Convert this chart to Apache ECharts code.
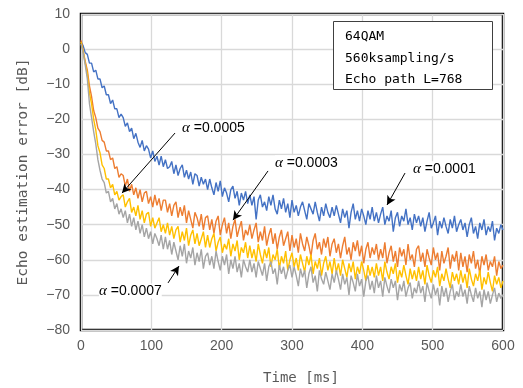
<!DOCTYPE html>
<html><head><meta charset="utf-8">
<script src="https://cdn.jsdelivr.net/npm/echarts@6/dist/echarts.min.js"></script>
<style>html,body{margin:0;padding:0;background:#fff}#c{width:523px;height:388px}</style>
</head><body><div id="c"></div>
<script>
const timeStepMs = 3;

// Echo estimation error [dB], one value every timeStepMs from 0 to 600 ms (20 values = 60 ms per row)
const err_a0001 = [
  2, 1, -1, -1.5, -4, -4, -6.5, -6, -8.5, -8.5, -11, -10.5, -13, -13, -15.5, -14.5, -17, -17, -19.5, -18.5,
  -19.5, -22, -21, -23.5, -22.5, -25.5, -24, -26.5, -28, -26, -29, -27.5, -28.5, -31, -29, -32, -30.5, -33, -30.5, -33.5,
  -31.5, -34, -33.5, -32, -35.5, -33, -36, -34, -33, -36.5, -34.5, -37, -35, -38.5, -35.5, -36, -39, -36.5, -38.5, -37,
  -40, -37, -39.5, -41.5, -38, -40.5, -37.5, -42, -39.5, -41, -43.5, -40, -39, -42.5, -40.5, -44.5, -41, -43, -40.5, -44,
  -41.5, -44.5, -42, -48.5, -43, -41.5, -45, -43.5, -46, -42, -44.5, -41.5, -45.5, -47, -43, -45.5, -42.5, -46.5, -44, -48,
  -43, -46.5, -44.5, -47.5, -45, -43.5, -46, -48.5, -44, -45.5, -47, -43.5, -46.5, -49, -45, -47.5, -44, -46.5, -48, -45,
  -47.5, -44.5, -47, -49.5, -45.5, -48, -46, -51, -46.5, -44, -48.5, -46, -49, -45.5, -47.5, -50, -46, -48.5, -45, -49,
  -46.5, -49.5, -47, -45, -50, -47.5, -49, -46, -52, -48, -46.5, -50.5, -47.5, -49, -45.5, -50, -48, -51.5, -47, -49.5,
  -47.5, -50.5, -48, -52, -49, -46.5, -51, -49.5, -47.5, -53, -49, -51, -48, -50.5, -52.5, -48.5, -51, -47.5, -52, -50,
  -48.5, -51.5, -49.5, -53.5, -50, -48, -52.5, -50.5, -54, -49.5, -51.5, -48.5, -53, -50.5, -52, -49, -54.5, -51, -52.5, -50,
  -51.5
];
const err_a0003 = [
  2.5, -0.5, -3.5, -6, -10.5, -13.5, -17.5, -19.5, -22.5, -23.5, -26, -26.5, -29, -29, -31.5, -31, -34, -33.5, -36.5, -35.5,
  -36, -39, -37, -40.5, -38.5, -41.5, -39.5, -42.5, -40, -43.5, -41, -40.5, -44, -42, -45, -41.5, -44.5, -42.5, -46, -43,
  -43, -46.5, -44, -47.5, -44.5, -43.5, -48, -45, -47.5, -44.5, -49.5, -46, -48.5, -51, -46.5, -48, -50.5, -47, -51.5, -48,
  -47.5, -51.5, -48.5, -52.5, -49, -47.5, -53, -50, -48, -52.5, -49.5, -54, -50.5, -48.5, -53.5, -51, -49, -54.5, -51.5, -53,
  -50, -54, -51.5, -49.5, -55, -52, -54.5, -50.5, -56, -53, -51, -55.5, -52.5, -57, -53.5, -51.5, -56, -54, -52, -57.5,
  -53, -56.5, -54, -58, -52.5, -55.5, -57.5, -53.5, -56, -59, -54.5, -52.5, -57, -55, -58.5, -54, -56.5, -53.5, -59, -55.5,
  -54, -58, -55.5, -59.5, -56, -53.5, -58.5, -56.5, -60, -55, -57.5, -54.5, -59, -56, -61, -57, -55, -59.5, -56.5, -58.5,
  -55.5, -60, -57, -59.5, -55, -61, -58, -56, -60.5, -57.5, -62, -56.5, -59, -57, -61.5, -55.5, -60, -58.5, -62, -57,
  -56, -60.5, -58, -62, -57, -59.5, -61.5, -56.5, -60, -58, -63, -57.5, -61, -59, -56.5, -62.5, -58.5, -60.5, -57.5, -63,
  -58, -62, -59, -63.5, -58.5, -61, -57.5, -62.5, -60, -64, -59, -61.5, -58.5, -63, -60.5, -62, -59, -64.5, -60.5, -62.5,
  -61.5
];
const err_a0005 = [
  2, -0.5, -4, -7, -12.5, -15.5, -20, -23, -27.5, -29.5, -33, -34, -37, -37, -39.5, -38.5, -41.5, -40.5, -43, -42,
  -41.5, -45, -43.5, -42.5, -46.5, -45, -47.5, -44.5, -48.5, -46, -49.5, -47, -46.5, -50.5, -48, -51, -49.5, -48, -52, -50,
  -52.5, -49.5, -53, -50.5, -54, -51.5, -50.5, -55, -52, -54.5, -51, -56, -53, -51.5, -55.5, -52.5, -56, -54, -52, -56.5,
  -53, -56.5, -54, -52.5, -57.5, -55, -53.5, -58, -55.5, -57, -54, -59, -55.5, -57.5, -54.5, -60, -56.5, -58, -55, -59.5,
  -56, -59.5, -57, -60.5, -55.5, -58.5, -61, -57, -59.5, -56.5, -62, -58.5, -60, -57, -62.5, -59, -61, -57.5, -63, -60,
  -58, -62, -59.5, -63, -58.5, -61, -63.5, -59, -61.5, -58.5, -64, -60.5, -62.5, -59.5, -64.5, -61, -59, -63, -60.5, -64,
  -59.5, -63.5, -61, -64.5, -60, -62.5, -65, -61, -63.5, -60.5, -65.5, -62, -64, -60.5, -63, -66, -61.5, -64.5, -62, -65,
  -61, -64.5, -62, -66, -60.5, -63.5, -65.5, -62, -64, -61, -66.5, -63, -65, -61.5, -64.5, -67, -62.5, -65.5, -63, -66,
  -62, -65.5, -63, -67, -61.5, -64.5, -66.5, -63, -65, -62, -67.5, -64, -66, -62.5, -65.5, -68, -63.5, -66, -64, -67,
  -63, -66.5, -64, -68, -62.5, -65.5, -67.5, -64, -66, -63, -68.5, -65, -67, -63.5, -66.5, -69, -64.5, -67, -65, -68,
  -66
];
const err_a0007 = [
  1.5, -1, -4.5, -8.5, -15.5, -19.5, -23.5, -27, -31.5, -34.5, -37, -38, -41, -40.5, -43.5, -42.5, -45.5, -44, -47, -45.5,
  -48, -46, -49.5, -47, -50.5, -48, -51.5, -49, -52.5, -50, -53.5, -51, -54, -52, -55.5, -52.5, -54, -56, -53, -57,
  -53.5, -57, -54.5, -58.5, -55, -57.5, -60, -56, -59, -55.5, -61, -57.5, -59.5, -56.5, -61.5, -58, -60.5, -57, -62.5, -59,
  -58, -61.5, -59, -62.5, -57.5, -60.5, -63, -59, -61.5, -58.5, -64, -60, -62.5, -59, -63.5, -61, -65, -60, -62, -63.5,
  -60, -63.5, -61, -65, -60.5, -62.5, -64.5, -61, -66, -62, -60.5, -64, -62.5, -67, -61.5, -64, -62, -65.5, -63, -61.5,
  -65, -62, -64.5, -67.5, -62.5, -65, -63, -68, -64, -62, -66.5, -64.5, -69, -63, -65.5, -67, -63.5, -66, -68.5, -64,
  -66.5, -63, -65.5, -68.5, -64, -67, -65, -70, -64.5, -66.5, -69, -64, -67.5, -65.5, -70.5, -66, -64.5, -68.5, -66, -69.5,
  -64.5, -68, -66, -70.5, -65, -67.5, -69.5, -65.5, -68, -66, -71.5, -67, -69, -66, -70.5, -68, -66.5, -71, -68, -69.5,
  -66, -69.5, -67.5, -72, -66.5, -69, -71, -67, -70, -68, -73, -67.5, -70.5, -68, -72, -69, -67, -71.5, -69, -70.5,
  -67, -70.5, -68.5, -72.5, -67.5, -70, -72, -68, -71, -69, -73.5, -68.5, -71.5, -69, -72.5, -70, -68, -72, -69.5, -71,
  -70
];

const seriesNames = ['α=0.0001', 'α=0.0003', 'α=0.0005', 'α=0.0007'];
const seriesValues = [err_a0001, err_a0003, err_a0005, err_a0007];

// axis ranges / ticks
const xMin = 0, xMax = 600, xStep = 100;
const yMin = -80, yMax = 10, yStep = 10;

// annotation texts
const infoLines = ['64QAM', '560ksampling/s', 'Echo path L=768'];
const calloutTexts = ['0.0005', '0.0003', '0.0001', '0.0007'];
const xTitle = 'Time [ms]';
const yTitle = 'Echo estimation error [dB]';

// ---- presentation ----
const colors = ['#4472C4', '#ED7D31', '#FFC000', '#A5A5A5'];
const callouts = [
  { label: [143.6, -22.5], from: [133.7, -23.9], to: [58.3, -41.0] },
  { label: [275.8, -32.4], from: [265.9, -34.7], to: [216.1, -48.7] },
  { label: [472.0, -34.1], from: [460.7, -35.3], to: [435.1, -44.4] },
  { label: [25.6, -68.9],  from: [123.7, -66.6], to: [139.3, -61.8] }
];
const monoFont = '"DejaVu Sans Mono", "Liberation Mono", monospace';
const tickFont = '"Liberation Sans", Arial, sans-serif';

const chart = echarts.init(document.getElementById('c'), null, { renderer: 'canvas' });

const series = seriesValues.map((vals, si) => ({
  name: seriesNames[si],
  type: 'line',
  data: vals.map((v, i) => [i * timeStepMs, v]),
  showSymbol: false,
  symbol: 'none',
  animation: false,
  z: 2 + si,
  lineStyle: { color: colors[si], width: 1.4 },
  itemStyle: { color: colors[si] }
}));

series.push({
  type: 'line',
  data: [],
  silent: true,
  animation: false,
  z: 10,
  markLine: {
    silent: true,
    animation: false,
    symbol: ['none', 'arrow'],
    symbolSize: [7, 9],
    label: { show: false },
    lineStyle: { color: '#000', width: 1, type: 'solid' },
    data: callouts.map(c => [{ coord: c.from }, { coord: c.to }])
  }
});

chart.setOption({
  backgroundColor: '#fff',
  animation: false,
  grid: {
    left: 81, right: 20, top: 14, bottom: 58,
    show: true, borderColor: '#000', borderWidth: 2.5, backgroundColor: 'transparent'
  },
  xAxis: {
    type: 'value', min: xMin, max: xMax, interval: xStep,
    axisLine: { show: false }, axisTick: { show: false },
    splitLine: { show: true, lineStyle: { color: '#d9d9d9', width: 1.3 } },
    axisLabel: { color: '#595959', fontSize: 14, margin: 9, fontFamily: tickFont }
  },
  yAxis: {
    type: 'value', min: yMin, max: yMax, interval: yStep,
    axisLine: { show: false }, axisTick: { show: false },
    splitLine: { show: true, lineStyle: { color: '#d9d9d9', width: 1.3 } },
    axisLabel: {
      color: '#595959', fontSize: 14, margin: 11, fontFamily: tickFont,
      formatter: v => (v < 0 ? '\u2212' + Math.abs(v) : String(v))
    }
  },
  series: series
});

function buildGraphics() {
  const g = [];
  g.push({
    type: 'text', silent: true, x: 301, y: 378,
    style: { text: xTitle, fill: '#595959', font: '14px ' + monoFont, align: 'center', verticalAlign: 'middle' }
  });
  g.push({
    type: 'text', silent: true, x: 23, y: 172, rotation: Math.PI / 2,
    style: { text: yTitle, fill: '#595959', font: '14.5px ' + monoFont, align: 'center', verticalAlign: 'middle' }
  });
  g.push({
    type: 'rect', silent: true, z: 20,
    shape: { x: 333.5, y: 21.5, width: 159, height: 68 },
    style: { fill: '#fff', stroke: '#404040', lineWidth: 1 }
  });
  infoLines.forEach((t, i) => {
    g.push({
      type: 'text', silent: true, z: 21, x: 345, y: 37 + i * 21.5,
      style: { text: t, fill: '#000', font: '13px ' + monoFont, align: 'left', verticalAlign: 'middle' }
    });
  });
  callouts.forEach((c, i) => {
    const p = chart.convertToPixel({ gridIndex: 0 }, c.label);
    g.push({
      type: 'text', silent: true, z: 22, x: p[0], y: p[1],
      style: {
        text: '{a|α} =0.' + calloutTexts[i].slice(2),
        verticalAlign: 'middle', align: 'left',
        backgroundColor: '#fff',
        rich: {
          a: { fontStyle: 'italic', fontSize: 15, fontFamily: '"Liberation Serif", serif', fill: '#000' }
        },
        fill: '#000', font: '14px "Liberation Sans", Arial, sans-serif'
      }
    });
  });
  return g;
}

chart.setOption({ graphic: buildGraphics() });
</script>
</body></html>
